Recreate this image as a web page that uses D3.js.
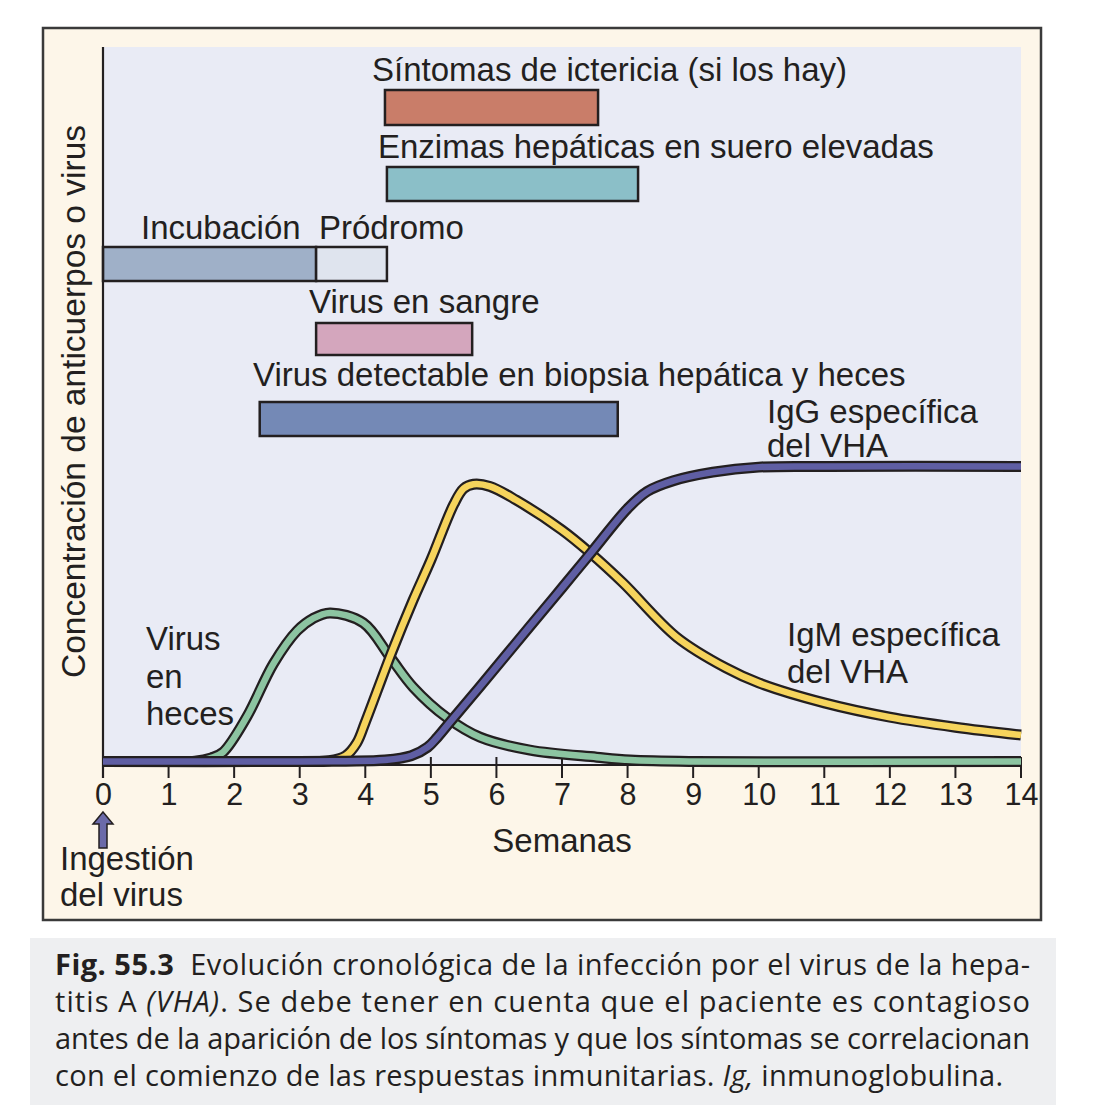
<!DOCTYPE html>
<html>
<head>
<meta charset="utf-8">
<script src="https://cdn.jsdelivr.net/npm/d3@7"></script>
<style>
  html, body { margin: 0; padding: 0; background: #ffffff; }
  svg { display: block; }
</style>
</head>
<body>
<svg id="chart" width="1101" height="1113"></svg>
<script>
// ---------- DATA ----------
const weekTicks = [0,1,2,3,4,5,6,7,8,9,10,11,12,13,14];

// Phase bars (weeks)
const phaseNames  = ["Síntomas de ictericia (si los hay)", "Enzimas hepáticas en suero elevadas", "Incubación", "Pródromo", "Virus en sangre", "Virus detectable en biopsia hepática y heces"];
const phaseStart  = [4.30, 4.33, 0.00, 3.25, 3.25, 2.39];
const phaseEnd    = [7.55, 8.16, 3.25, 4.33, 5.63, 7.85];

// Curves (week, relative concentration 0–100)
const virusHecesWeeks = [0, 1.0, 1.4, 1.65, 1.83, 2.19, 2.6, 2.96, 3.2, 3.46, 3.97, 4.38, 4.73, 5.25, 5.75, 6.51, 7.53, 8.04, 9.0, 14];
const virusHecesVals  = [0, 0, 0.05, 0.5, 1.3, 6.2, 13.7, 18.3, 20.0, 20.8, 19.4, 14.6, 10.4, 6.1, 3.4, 1.6, 0.6, 0.2, 0, 0];

const igmWeeks = [0, 3.0, 3.45, 3.7, 3.87, 4.0, 4.4, 4.73, 5.0, 5.35, 5.5, 5.65, 5.9, 6.3, 7.0, 7.43, 7.93, 8.75, 9.5, 10.0, 11.0, 12.0, 13.0, 14.0];
const igmVals  = [0, 0, 0.1, 0.8, 2.6, 5.5, 15.2, 22.6, 28.2, 36.0, 38.2, 38.8, 38.5, 36.6, 32.4, 29.2, 25.0, 17.4, 13.1, 11.0, 8.2, 6.2, 4.8, 3.7];

const iggWeeks = [0, 3.0, 3.7, 4.3, 4.7, 4.95, 5.1, 5.3, 5.75, 6.5, 7.0, 7.45, 8.0, 8.3, 8.7, 9.3, 10.0, 11.0, 14.0];
const iggVals  = [0, 0, 0.05, 0.2, 0.8, 2.0, 3.4, 5.6, 10.5, 18.8, 24.3, 29.3, 35.4, 37.8, 39.3, 40.5, 41.2, 41.3, 41.3];

// ---------- LAYOUT ----------
const svg = d3.select("#chart");
const FONT = "'Liberation Sans', Arial, Helvetica, sans-serif";
const INK = "#231f20";

const x = d3.scaleLinear().domain([0, 14]).range([103, 1021]);
const y = d3.scaleLinear().domain([0, 100]).range([761.5, 47]);

// caption background
svg.append("rect").attr("x", 30).attr("y", 938).attr("width", 1026).attr("height", 167).attr("fill", "#eeeff1");

// outer frame
svg.append("rect").attr("x", 43).attr("y", 28).attr("width", 998).attr("height", 892)
  .attr("fill", "#fdf6e9").attr("stroke", "#3a3a3a").attr("stroke-width", 2.5);

// plot background
svg.append("rect").attr("x", x(0)).attr("y", 47).attr("width", x(14) - x(0)).attr("height", 765 - 47)
  .attr("fill", "#e9ebf5");

// phase bars
const barRows = [[90, 35], [167, 34], [247, 34], [247, 34], [323, 32], [402, 34]];
const barFill = ["#c97d69", "#8bbfc8", "#9fb0c8", "#dfe4ee", "#d4a6bd", "#7489b6"];
phaseNames.forEach((n, i) => {
  svg.append("rect")
    .attr("x", x(phaseStart[i])).attr("y", barRows[i][0])
    .attr("width", x(phaseEnd[i]) - x(phaseStart[i])).attr("height", barRows[i][1])
    .attr("fill", barFill[i]).attr("stroke", INK).attr("stroke-width", 2.5);
});

// phase labels
const labelPos = [[372, 81], [378, 158], [141, 239], [319, 239], [309, 313], [253, 386]];
phaseNames.forEach((n, i) => {
  svg.append("text").attr("x", labelPos[i][0]).attr("y", labelPos[i][1])
    .attr("font-family", FONT).attr("font-size", 33).attr("fill", INK).text(n);
});

// x axis line and ticks
svg.append("line").attr("x1", x(0)).attr("x2", x(14)).attr("y1", 765).attr("y2", 765)
  .attr("stroke", INK).attr("stroke-width", 2);
const gx = svg.append("g");
weekTicks.forEach(t => {
  gx.append("line").attr("x1", x(t)).attr("x2", x(t)).attr("y1", 757).attr("y2", 778)
    .attr("stroke", INK).attr("stroke-width", 2);
});
const xAxis = d3.axisBottom(x).tickValues(weekTicks).tickSize(0).tickPadding(0).tickFormat(d3.format("d"));
const gxa = svg.append("g").attr("transform", "translate(0,805)").call(xAxis);
gxa.select(".domain").remove();
gxa.selectAll("text").attr("font-family", FONT).attr("font-size", 30.5).attr("fill", INK)
  .attr("dy", 0).attr("y", 0);

// y axis line
svg.append("line").attr("x1", x(0)).attr("x2", x(0)).attr("y1", 47).attr("y2", 778)
  .attr("stroke", INK).attr("stroke-width", 2.2);

// curves
const line = d3.line().x(d => x(d[0])).y(d => y(d[1])).curve(d3.curveCatmullRom.alpha(0.5));
function drawCurve(ws, vs, color) {
  const pts = ws.map((w, i) => [w, vs[i]]);
  svg.append("path").attr("d", line(pts)).attr("fill", "none").attr("stroke", INK)
    .attr("stroke-width", 11).attr("stroke-linejoin", "round");
  svg.append("path").attr("d", line(pts)).attr("fill", "none").attr("stroke", color)
    .attr("stroke-width", 6.5).attr("stroke-linejoin", "round");
}
drawCurve(virusHecesWeeks, virusHecesVals, "#8cc4a1");
drawCurve(igmWeeks, igmVals, "#f6d45c");
drawCurve(iggWeeks, iggVals, "#5f5ea3");

// curve labels
function multi(lines, x0, y0, dy, fs) {
  lines.forEach((t, i) => {
    svg.append("text").attr("x", x0).attr("y", y0 + i * dy)
      .attr("font-family", FONT).attr("font-size", fs || 33).attr("fill", INK).text(t);
  });
}
multi(["IgG específica", "del VHA"], 767, 423, 34);
multi(["IgM específica", "del VHA"], 787, 646, 37);
multi(["Virus", "en", "heces"], 146, 650, 37.5);

// axis titles
svg.append("text").attr("x", 562).attr("y", 852).attr("text-anchor", "middle")
  .attr("font-family", FONT).attr("font-size", 33).attr("fill", INK).text("Semanas");
svg.append("text").attr("transform", "translate(85,401.5) rotate(-90)").attr("text-anchor", "middle")
  .attr("font-family", FONT).attr("font-size", 33.5).attr("fill", INK).text("Concentración de anticuerpos o virus");
multi(["Ingestión", "del virus"], 60, 870, 36);

// arrow
const ax = x(0);
svg.append("path")
  .attr("d", `M${ax},812 L${ax+10},824 L${ax+4},824 L${ax+4},848 L${ax-4},848 L${ax-4},824 L${ax-10},824 Z`)
  .attr("fill", "#6b6aa9").attr("stroke", INK).attr("stroke-width", 1.5).attr("stroke-linejoin", "miter");

// caption
const CAP = "'Open Sans', 'Lato', sans-serif";
const cap = svg.append("g").attr("font-family", CAP).attr("font-size", 29).attr("fill", INK);
const capLines = [
  [{t: "Fig. 55.3", w: "bold"}, {t: "  Evolución cronológica de la infección por el virus de la hepa-"}],
  [{t: "titis A "}, {t: "(VHA)", s: "italic"}, {t: ". Se debe tener en cuenta que el paciente es contagioso"}],
  [{t: "antes de la aparición de los síntomas y que los síntomas se correlacionan"}],
  [{t: "con el comienzo de las respuestas inmunitarias. "}, {t: "Ig,", s: "italic"}, {t: " inmunoglobulina."}]
];
const capBase = [975, 1012, 1049, 1086];
const capLen = [975, 975, 975, 948];
capLines.forEach((segs, i) => {
  const tx = cap.append("text").attr("x", 55).attr("y", capBase[i]).attr("xml:space", "preserve");
  segs.forEach(s => {
    const sp = tx.append("tspan").text(s.t);
    if (s.w) sp.attr("font-weight", s.w);
    if (s.s) sp.attr("font-style", s.s);
  });
  tx.attr("textLength", capLen[i]).attr("lengthAdjust", "spacing");
});
</script>
</body>
</html>
